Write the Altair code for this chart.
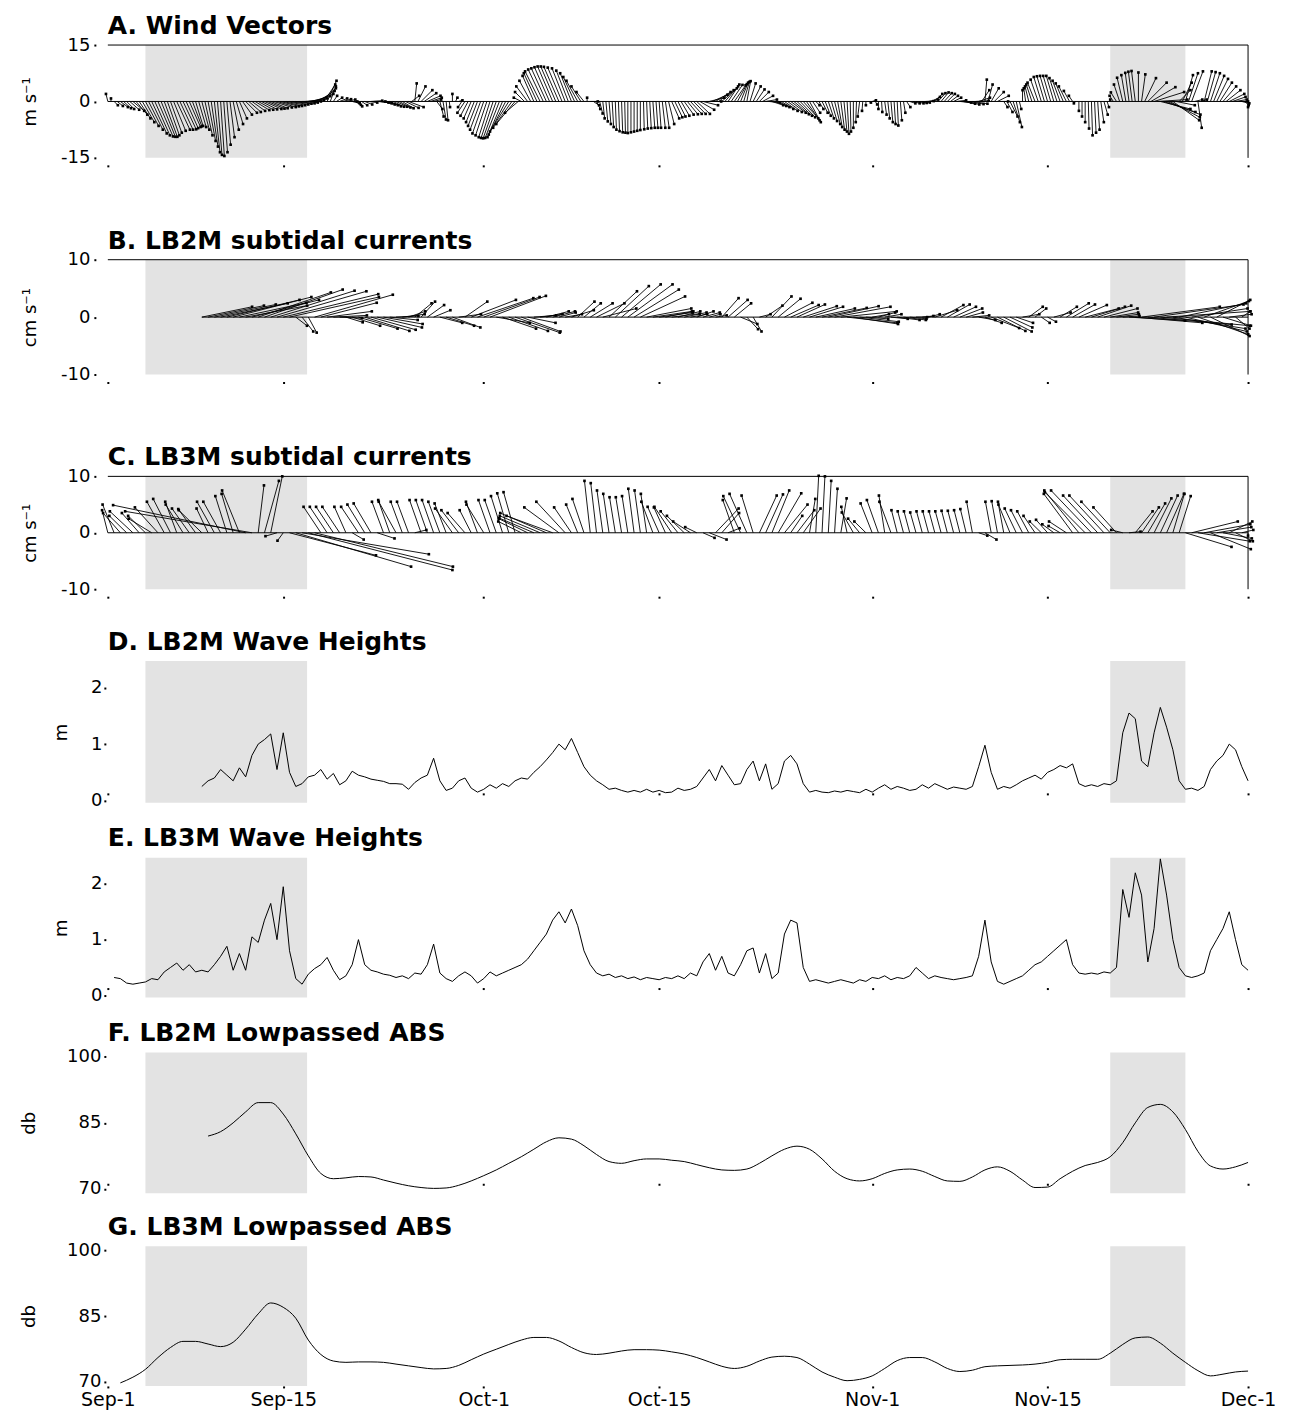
import altair as alt
import pandas as pd

FONT = "DejaVu Sans"
PLOT_W = 1142

DAY_TICKS = [0, 14, 30, 44, 61, 75, 91]
DAY_LABELS = ["Sep-1", "Sep-15", "Oct-1", "Oct-15", "Nov-1", "Nov-15", "Dec-1"]
SHADE_START = [3.0, 80.0]
SHADE_END = [15.9, 86.0]

# ---------------- A. wind (m/s), every 0.25 day from day 0 ----------------
A_START = 0.0
A_STEP = 0.25
A_V = [2.0, 0.8, -1.0, -1.2, -1.5, -1.8, -2.0, -2.2, -2.5, -3.5, -4.5, -5.5, -6.5, -7.5, -8.5, -9.0, -9.3, -9.4, -9.4, -9.0,
       -8.3, -7.8, -7.5, -7.5, -7.4, -7.1, -6.8, -6.6, -6.5, -6.8, -7.5, -9.0, -10.5, -12.0, -13.5, -14.2, -14.5, -13.5, -11.5, -9.5,
       -7.5, -6.0, -4.5, -3.5, -3.0, -2.8, -2.5, -2.3, -2.2, -2.1, -2.0, -1.9, -1.8, -1.6, -1.5, -1.3, -1.2, -1.0, -0.8, -0.6,
       -0.5, -0.3, 0.0, 0.4, 0.8, 1.4, 2.0, 2.8, 3.5, 4.5, 5.5, 4.0, 1.5, 1.0, 0.8, 0.6, 0.5, 0.0, -0.5, -0.9,
       -1.3, -1.0, -0.8, -0.3, 0.2, 0.0, -0.3, -0.5, -0.8, -1.0, -1.3, -1.4, -1.4, -1.6, -1.8, -1.7, -1.5, 1.5, 4.8, 4.0,
       3.0, 2.2, 1.5, 1.0, 0.5, -2.0, -4.0, -4.8, -5.0, -1.5, 2.0, 1.0, 0.3, -1.5, -3.0, -3.8, -4.5, -5.5, -6.5, -7.5,
       -8.5, -9.0, -9.5, -9.7, -9.8, -9.7, -9.5, -8.8, -8.0, -7.0, -6.0, -3.0, 1.0, 2.5, 4.0, 5.5, 6.8, 7.5, 8.0, 8.5,
       8.8, 9.1, 9.3, 9.3, 9.2, 9.0, 8.8, 8.2, 7.5, 6.5, 5.5, 4.0, 2.5, 1.0, 0.0, -1.0, -2.0, -3.2, -4.5, -5.3,
       -6.0, -6.8, -7.5, -7.9, -8.2, -8.3, -8.4, -8.2, -8.0, -7.8, -7.6, -7.4, -7.2, -7.1, -7.0, -7.0, -7.0, -7.0, -7.0, -6.0,
       -4.5, -4.2, -4.0, -3.8, -3.5, -3.4, -3.3, -3.3, -3.3, -2.2, -1.0, 0.0, 1.0, 1.8, 2.5, 3.0, 3.5, 4.0, 4.5, 4.4,
       4.3, 4.6, 5.0, 5.2, 5.4, 4.8, 4.0, 3.2, 2.5, 1.5, 0.5, -0.3, -1.0, -1.2, -1.5, -2.0, -2.5, -2.8, -3.0, -3.4,
       -3.8, -4.2, -4.5, -5.0, -5.5, -3.0, -1.0, -2.0, -3.0, -3.8, -4.5, -5.2, -6.0, -6.8, -7.5, -8.0, -8.6, -8.0, -7.0, -5.5,
       -4.0, -2.5, -1.0, -0.3, 0.3, -0.8, -2.0, -2.8, -3.5, -4.5, -5.5, -6.0, -6.4, -5.0, -3.0, -1.5, -0.5, -0.5, -0.5, -0.4,
       -0.3, 0.1, 0.5, 1.2, 2.0, 2.2, 2.4, 2.2, 2.0, 1.5, 1.0, 0.3, -0.3, -0.6, -0.8, -0.7, -0.6, 0.2, 1.0, 3.0,
       5.8, 4.5, 3.5, 2.5, 1.5, 0.0, -1.5, -2.8, -4.0, -5.5, -6.8, -2.0, 3.0, 3.5, 4.0, 4.5, 5.0, 5.8, 6.5, 6.7,
       6.8, 6.8, 6.8, 6.2, 5.5, 4.8, 4.0, 2.8, 1.5, -0.5, -2.5, -4.0, -5.5, -7.2, -9.0, -8.3, -7.5, -5.5, -3.5, -1.5,
       0.5, 1.5, 2.4, 4.5, 6.3, 7.0, 7.6, 7.9, 8.1, 7.7, 7.2, 6.2, 5.0, 3.8, 2.5, 0.5, -2.0, -2.8, -3.5, -4.2,
       -5.0, -1.0, 3.0, 5.0, 7.0, 7.5, 8.0, 0.5, -7.0, 0.5, 8.0, 7.8, 7.5, 6.8, 6.0, 5.0, 4.0, 3.0, 2.0, 1.2,
       0.5, 0.0, -0.5, -1.0, -1.5]
A_U = [-0.5, 0, 1, 1.5, 2, 2, 2, 2.5, 3, 3, 3, 3.2, 3.5, 3.8, 4, 4, 4, 3.8, 3.5, 3.2,
       3, 3.2, 3.5, 3.5, 3.5, 3.2, 3, 2.5, 2, 2, 2, 2, 2, 1.8, 1.5, 1.2, 1, 1, 1, 1.2,
       1.5, 1.8, 2, 2.5, 3, 3.2, 3.5, 3.8, 4, 4.2, 4.5, 4.5, 4.5, 4.8, 5, 5, 5, 5, 5, 5,
       5, 5, 5, 5, 5, 5, 5, 4.5, 4, 3, 2.5, 1.5, 1, 1.5, 2, 2.2, 2.5, 2.2, 2, 1.5,
       1, 1.5, 2, 2.5, 3, 3, 3, 3, 3, 3, 3, 3, 3, 3, 3, 3.5, 4, 2, 0.5, 2,
       3, 3.2, 3.5, 3, 2, 1.5, 1, 0.8, 0.5, 0.2, 0, 0.5, 1, -1, -2, -2, -2, -2.2, -2.5, -2.8,
       -3, -3, -3, -3.2, -3.5, -3.8, -4, -4.5, -5, -5, -5, -3.5, -2, -2.5, -3, -3, -3, -3.5, -4, -4,
       -4, -4, -4, -4, -4, -3.8, -3.5, -3.2, -3, -3, -3, -2.5, -2, 0, 2, 1.5, 1, 0.8, 0.5, 0.5,
       0.5, 0.4, 0.3, 0.3, 0.3, 0.2, 0, 0, 0, 0, 0, 0.2, 0.3, 0.4, 0.5, 0.5, 0.5, 0.8, 1, 1.5,
       2, 2, 2, 2.2, 2.5, 2.8, 3, 3.2, 3.5, 3.8, 4, 4, 4, 4, 4, 4, 4, 3.5, 3, 3,
       3, 2.5, 2, 1.5, 1, 1.5, 2, 2.2, 2.5, 2.8, 3, 3, 3, 3, 3, 3.2, 3.5, 3.8, 4, 4,
       4, 4, 4, 3.5, 3, 2, 1, 1.2, 1.5, 1.5, 1.5, 1.5, 1.5, 1.2, 1, 0.8, 0.5, 0.2, 0, -0.2,
       -0.5, -0.2, 0, 0.5, 1, 0.5, 0, 0.2, 0.5, 0.5, 0.5, 0.4, 0.3, 0.4, 0.5, 1, 1.5, 1.8, 2, 2,
       2, 2.2, 2.5, 2.2, 2, 2, 2, 2, 2, 2, 2, 2.5, 3, 3.2, 3.5, 3.8, 4, 3.5, 3, 2,
       0.5, 1.2, 2, 2.5, 3, 2, 1, 1.5, 2, 1.8, 1.5, 0.5, 0, -0.5, -1, -1.5, -2, -2, -2, -2,
       -2, -2, -2, -2, -2, -2, -2, -1.5, -1, -0.5, 0, 0, 0, 0.2, 0.3, 0.4, 0.5, 0.8, 1, 0.5,
       0, -1, -1.5, -1.5, -1.5, -1.2, -1, -1, -1, 0, 1, 3, 5, 6.5, 8, 8, 8, 8.5, 9, 8,
       7, 5, 3, 2.5, 2, 2.5, 3, 2, 1, 1.5, 2, 2.2, 2.5, 2.8, 3, 3.2, 3.5, 3.8, 4, 3.5,
       3, 2.5, 2, 1, 0]

# ---------------- B. LB2M currents (cm/s), every 0.5 day from day 7.5 ----------------
B_START = 7.5
B_U = [9, 10, 11, 12, 13,
       14, 12, 11, 12, 13, 14, 15, 16, 17, 16,
       2, 2, 1.5, 14, 10, 8, 6, 4, 3, 5,
       7, 8, 8, 8, 7, 5, 4, 4, 3, 3,
       2.5, 3, 3, 4, 5, 5, 4, 4, 8, 10,
       10, 10, 6, 6, 7, 8, 7, 5, 4, 4,
       4, 4, 3, 3, 4, 3, 3, 4, 5, 6,
       5, 6, 7, 8, 8, 8, 8, 7, 6, 5,
       5, 4, 4, 3, 3, 3, 2, 2, 3, 3.5,
       3, 3, 2, 1.5, 2, 3, 3.5, 4, 5, 5,
       5, 6, 6, 7, 8, 9, 10, 10, 9, 8,
       7, 4, 3, 3, 3, 3, 4, 4, 3, 2,
       2, 2, 4, 4, 4, 4, 4, 3, 3, 3,
       3, 5, 5, 5, 4, 3, 3, 2.5, 2, 1.5,
       1.5, 3, 3, 4, 4, 5, 6, 6, 6, 6,
       5, 4, 3, 10, 12, 14, 15, 16, 16, 15,
       13, 12, 11, 10, 9, 8, 7, 6, 5, 4,
       2.5, 1.5]
B_V = [1.8, 2.0, 2.2, 2.4, 3.0,
       3.5, 2.5, 2.0, 3.0, 4.3, 4.8, 4.6, 4.5, 4.0, 3.5,
       -1.5, -2.5, -2.7, 3.9, 2.5, 1.0, 0.3, -0.2, -0.9, -1.5,
       -2.0, -2.4, -2.2, -1.8, -1.2, -0.5, 0.2, 0.5, 1.0, 2.4,
       2.7, 2.1, 1.2, -1.0, -1.5, -1.8, 0.5, 2.7, 3.0, 3.3,
       3.5, 3.7, -1.0, -2.0, -2.4, -2.7, -2.5, -1.0, 0.3, 0.5,
       1.0, 1.0, 0.8, 0.5, 1.2, 2.7, 2.4, 2.4, 2.4, 1.5,
       4.5, 5.4, 5.7, 5.7, 4.8, 3.6, 1.5, 1.0, 0.8, 1.0,
       0.6, 1.0, 0.8, 0.5, 1.0, 0.8, 0.5, 0.3, 3.3, 3.0,
       2.4, -1.2, -2.1, -2.5, 0.5, 2.0, 3.6, 3.2, 2.5, 2.1,
       2.2, 1.9, 1.8, 1.5, 1.6, 1.9, 1.8, 1.0, -1.0, -1.2,
       -0.8, -0.3, 0.5, 0.8, 0.5, -0.3, -0.5, -0.5, -0.3, 0.0,
       0.2, 0.5, 1.2, 2.1, 2.2, 1.8, 1.5, 0.8, 0.3, -0.5,
       -1.0, -1.9, -2.4, -2.5, -1.8, -1.0, 0.5, 1.8, 1.5, -1.0,
       -0.8, 0.8, 1.8, 2.4, 2.2, 2.1, 1.5, 1.8, 2.0, 1.5,
       0.8, 0.5, 0.2, -0.6, -1.0, 1.8, -1.3, 2.2, -1.5, 1.0,
       -2.0, 2.4, -2.5, 1.5, -3.0, 2.8, -3.3, 3.0, -1.5, 0.5,
       -2.0, 1.0]

# ---------------- C. LB3M currents (cm/s), every 0.5 day from day 0 ----------------
C_START = 0.0
C_U = [-1, -2, -3, -3, -4, -3, -3, -4, -4, -3,
       -3, -2, -3, -3, -3, -4, -2, -3, -3, -2,
       -2, -3, -23, -22, 1, 2.5, 2, -2, -1, 15,
       20, 22, 25, 24, -3, -3, -3, -3, -2, 2,
       -3, -3, -3, 3, -2, -2, -3, -2, -2, 2,
       -2, -2, -2, -2, -2, -3, -3, -3, -2, -2,
       -3, -2, -2, -2, -2, -2, -4, -5, -6, -7,
       -8, -8, -6, -5, -3, -2, -2, -1, -1, -1,
       -1, -1, -1, -1, -1, -1, -1, -2, -2, -2,
       -3, -3, -3, -3, -2, 2, 3, 4, 3, 2,
       -2, -3, -3, -2, 3, 3, 3, 4, 4, 2,
       3, 3, 1, 0.5, 0.5, 0.5, 0.5, 1, -1, -2,
       -2, -2, -2, -2, -1, -2, -1, -1, -1, -1,
       -1, -1, -1, -1, -1, -1, -1, -1, -1, 1.5,
       2, -1, -1, -1, -2, -2, -2, -2, -2, -2,
       -2, -2, -2, -3, -5, -6, -7, -7, -6, -6,
       -5, -4, -2, 2, 3, 3, 3, 3, 3, 3,
       2, 2, 8, 8, 9, 8, 7, 6, 5, 4,
       3, 2, 0]
C_V = [4.0, 5.0, 3.5, 3.0, 3.8, 3.5, 3.0, 2.5, 4.5, 5.5,
       6.0, 5.5, 5.0, 4.3, 4.2, 4.0, 4.3, 5.5, 5.5, 6.5,
       6.9, 7.5, 4.9, 3.8, 8.4, 9.2, 10.0, -0.6, -1.4, -4.0,
       -6.0, -3.8, -6.6, -6.0, 4.6, 4.6, 4.6, 4.6, 4.6, -1.2,
       4.6, 5.0, 5.2, -1.0, 5.5, 5.8, 5.5, 5.5, 5.5, 0.5,
       5.8, 5.8, 5.8, 5.5, 5.2, 4.3, 4.0, 3.5, 4.0, 5.5,
       5.0, 5.8, 5.8, 6.5, 7.0, 7.2, 2.0, 2.5, 2.6, 3.0,
       3.5, 3.0, 4.5, 5.5, 4.5, 5.0, 6.0, 9.2, 8.8, 7.5,
       6.9, 6.3, 6.3, 6.5, 7.8, 7.5, 6.9, 5.5, 4.6, 4.5,
       4.6, 3.8, 3.0, 2.0, 1.0, -0.9, -1.2, 4.3, 3.5, 0.8,
       5.8, 6.5, 6.9, 6.6, 6.6, 6.8, 7.5, 7.0, 5.0, 3.0,
       4.0, 4.3, 6.0, 10.1, 10.0, 9.2, 7.8, 6.1, 4.6, 3.6,
       2.5, 2.0, 5.2, 5.8, 6.6, 5.5, 4.0, 3.8, 3.8, 3.6,
       3.8, 3.8, 3.8, 3.8, 3.9, 3.9, 4.0, 4.2, 5.5, -0.5,
       -1.2, 5.5, 5.6, 5.5, 5.0, 4.3, 4.0, 3.8, 3.0, 2.0,
       2.3, 1.5, 1.2, 2.0, 6.9, 7.5, 7.2, 7.5, 6.6, 6.6,
       5.5, 4.5, 0.5, 0.2, 3.8, 4.5, 5.2, 6.1, 6.6, 6.9,
       6.9, 6.5, -2.5, 2.0, -1.5, 1.5, -2.9, 1.0, -1.0, 2.0,
       -1.5, 0.5, -0.5]

# ---------------- D. LB2M wave height (m), every 0.5 day from day 7.5 ----------------
D_START = 7.5
D_H = [0.25, 0.35, 0.40, 0.55, 0.45,
       0.35, 0.58, 0.42, 0.80, 1.00, 1.08, 1.18, 0.55, 1.20, 0.50,
       0.25, 0.30, 0.42, 0.45, 0.55, 0.38, 0.48, 0.28, 0.35, 0.52,
       0.45, 0.42, 0.38, 0.36, 0.34, 0.30, 0.30, 0.29, 0.20, 0.32,
       0.40, 0.45, 0.75, 0.35, 0.18, 0.22, 0.35, 0.40, 0.22, 0.15,
       0.20, 0.28, 0.22, 0.30, 0.25, 0.35, 0.40, 0.38, 0.50, 0.60,
       0.72, 0.85, 1.00, 0.90, 1.10, 0.85, 0.60, 0.45, 0.35, 0.28,
       0.20, 0.22, 0.18, 0.15, 0.18, 0.15, 0.20, 0.15, 0.18, 0.14,
       0.15, 0.22, 0.18, 0.20, 0.25, 0.40, 0.55, 0.35, 0.62, 0.45,
       0.28, 0.30, 0.55, 0.70, 0.35, 0.65, 0.20, 0.30, 0.70, 0.80,
       0.65, 0.30, 0.15, 0.18, 0.15, 0.14, 0.17, 0.15, 0.18, 0.16,
       0.14, 0.20, 0.15, 0.22, 0.28, 0.20, 0.25, 0.22, 0.18, 0.20,
       0.28, 0.22, 0.30, 0.25, 0.20, 0.24, 0.22, 0.20, 0.25, 0.60,
       0.98, 0.50, 0.20, 0.25, 0.22, 0.28, 0.35, 0.40, 0.45, 0.38,
       0.50, 0.55, 0.62, 0.58, 0.65, 0.30, 0.25, 0.28, 0.25, 0.30,
       0.28, 0.35, 1.20, 1.55, 1.45, 0.70, 0.60, 1.20, 1.65, 1.30,
       0.90, 0.35, 0.20, 0.22, 0.18, 0.25, 0.55, 0.70, 0.80, 1.00,
       0.90, 0.60, 0.35]

# ---------------- E. LB3M wave height (m), every 0.5 day from day 0.5 ----------------
E_START = 0.5
E_H = [0.32, 0.30, 0.22, 0.20, 0.22, 0.24, 0.30, 0.28, 0.42,
       0.50, 0.58, 0.45, 0.55, 0.42, 0.45, 0.42, 0.55, 0.70, 0.88,
       0.45, 0.75, 0.45, 1.05, 0.95, 1.35, 1.65, 1.00, 1.95, 0.80,
       0.30, 0.20, 0.38, 0.48, 0.55, 0.68, 0.45, 0.28, 0.35, 0.55,
       1.00, 0.55, 0.45, 0.42, 0.38, 0.36, 0.32, 0.35, 0.30, 0.40,
       0.38, 0.55, 0.92, 0.40, 0.30, 0.25, 0.35, 0.42, 0.35, 0.22,
       0.30, 0.42, 0.35, 0.40, 0.45, 0.50, 0.55, 0.65, 0.80, 0.95,
       1.10, 1.35, 1.50, 1.30, 1.55, 1.25, 0.80, 0.55, 0.40, 0.35,
       0.38, 0.32, 0.35, 0.30, 0.33, 0.28, 0.32, 0.30, 0.28, 0.32,
       0.30, 0.35, 0.30, 0.40, 0.35, 0.60, 0.75, 0.45, 0.70, 0.40,
       0.35, 0.55, 0.80, 0.85, 0.40, 0.75, 0.30, 0.40, 1.10, 1.35,
       1.30, 0.50, 0.25, 0.28, 0.25, 0.22, 0.25, 0.28, 0.25, 0.22,
       0.28, 0.25, 0.32, 0.30, 0.35, 0.28, 0.32, 0.30, 0.35, 0.50,
       0.40, 0.30, 0.35, 0.32, 0.30, 0.28, 0.30, 0.32, 0.35, 0.70,
       1.35, 0.60, 0.25, 0.20, 0.25, 0.30, 0.35, 0.45, 0.55, 0.60,
       0.70, 0.80, 0.90, 1.00, 0.55, 0.40, 0.38, 0.40, 0.38, 0.42,
       0.40, 0.50, 1.90, 1.40, 2.20, 1.80, 0.60, 1.20, 2.45, 1.80,
       1.00, 0.50, 0.35, 0.32, 0.35, 0.40, 0.80, 1.00, 1.20, 1.50,
       1.00, 0.55, 0.45]

# ---------------- F. LB2M lowpassed ABS (db), daily from day 8 ----------------
F_START = 8
F_DB = [82.0, 83.0, 85.0, 87.5, 89.6, 89.6, 87.0, 82.5, 77.5, 73.5,
        72.3, 72.5, 72.8, 72.7, 72.0, 71.3, 70.7, 70.3, 70.1, 70.2,
        70.8, 71.8, 73.0, 74.3, 75.8, 77.3, 79.0, 80.7, 81.6, 81.3,
        79.8, 77.8, 76.2, 75.8, 76.4, 76.8, 76.8, 76.5, 76.2, 75.5,
        74.8, 74.3, 74.2, 74.5, 75.8, 77.5, 79.0, 79.7, 79.0, 76.8,
        74.0, 72.3, 71.8, 72.3, 73.5, 74.3, 74.5, 74.0, 72.8, 71.8,
        71.7, 72.7, 74.3, 75.0, 74.0, 72.0, 70.3, 70.4, 72.3, 74.0,
        75.3, 76.0, 77.3, 80.5, 85.0, 88.5, 89.2, 87.5, 83.5, 78.5,
        75.2, 74.5, 75.0, 76.0]

# ---------------- G. LB3M lowpassed ABS (db), daily from day 1 ----------------
G_START = 1
G_DB = [69.7, 71.0, 72.8, 75.5, 77.8, 79.2, 79.2, 78.6, 78.0, 79.0,
        82.0, 85.5, 88.0, 87.0, 84.5, 79.5, 76.2, 74.7, 74.4, 74.5,
        74.5, 74.4, 74.0, 73.6, 73.2, 72.9, 73.0, 73.7, 75.0, 76.3,
        77.4, 78.5, 79.5, 80.1, 80.1, 79.3, 77.8, 76.6, 76.2, 76.5,
        77.0, 77.3, 77.3, 77.2, 76.8, 76.3, 75.5, 74.5, 73.5, 73.0,
        73.5, 74.7, 75.6, 75.8, 75.5, 74.0, 72.2, 71.0, 70.2, 70.5,
        71.3, 73.0, 74.8, 75.5, 75.5, 74.5, 73.0, 72.3, 72.6, 73.4,
        73.6, 73.7, 73.8, 74.0, 74.4, 75.0, 75.1, 75.1, 75.1, 76.5,
        78.5, 80.0, 80.2, 78.8, 76.5, 74.4, 72.5, 71.3, 71.7, 72.2,
        72.4]


def times(start, n, step):
    return [start + step * i for i in range(n)]


label_expr = "''"
for d, lab in zip(reversed(DAY_TICKS), reversed(DAY_LABELS)):
    label_expr = f"datum.value == {d} ? '{lab}' : ({label_expr})"

XSC = alt.Scale(domain=[0, 91], nice=False, zero=False)


def xaxis(kind):
    common = dict(values=DAY_TICKS, tickSize=2, tickWidth=2, tickColor="black",
                  domain=False, grid=False, title=None)
    if kind == "stick":
        return alt.Axis(labels=False, offset=7, **common)
    if kind == "inner":
        return alt.Axis(labels=False, offset=-10, **common)
    return alt.Axis(labelExpr=label_expr, labelFontSize=19, labelFlush=False,
                    labelPadding=3, labelOverlap=False, **common)


def yaxis(vals, title, offset, pad, tpad):
    return alt.Axis(values=vals, title=title, offset=offset, labelPadding=pad,
                    titlePadding=tpad, tickSize=2, tickWidth=2, tickColor="black",
                    domain=False, grid=False, labelFontSize=18, titleFontSize=18,
                    titleFontWeight="normal", labelExpr="toString(datum.value)")


def panel_title(text, offset):
    return alt.TitleParams(text=text, anchor="start", frame="group", font=FONT,
                           fontSize=25, fontWeight="bold", color="black", offset=offset)


def shade_layer(ysc, ymin, ymax, xax, yax):
    sdf = pd.DataFrame({"s": SHADE_START, "e": SHADE_END,
                        "lo": [ymin] * len(SHADE_START), "hi": [ymax] * len(SHADE_START)})
    return alt.Chart(sdf).mark_rect(color="#e3e3e3").encode(
        x=alt.X("s:Q", scale=XSC, axis=xax), x2="e:Q",
        y=alt.Y("lo:Q", scale=ysc, axis=yax), y2="hi:Q")


def stick_panel(title, start, step, u, v, k, ylim, yvals, ytitle, height, sw):
    assert len(u) == len(v)
    ymin, ymax = ylim
    ysc = alt.Scale(domain=[ymin, ymax], nice=False, zero=False)
    xax = xaxis("stick")
    yax = yaxis(yvals, ytitle, 12, 4, 21)
    t = times(start, len(u), step)
    df = pd.DataFrame({"t": t, "u": u, "v": v})
    df["tip"] = df["t"] + k * df["u"]
    df["zero"] = 0.0
    fdf = pd.DataFrame({"x": [start, 0, 91], "x2": [91, 91, 91],
                        "y": [0, ymax, ymin], "y2": [0, ymax, ymax]})
    shade = shade_layer(ysc, ymin, ymax, xax, yax)
    frame = alt.Chart(fdf).mark_rule(color="black", strokeWidth=1).encode(
        x=alt.X("x:Q", scale=XSC, axis=xax), x2="x2:Q",
        y=alt.Y("y:Q", scale=ysc, axis=yax), y2="y2:Q")
    sticks = alt.Chart(df).mark_rule(color="black", strokeWidth=sw).encode(
        x=alt.X("t:Q", scale=XSC, axis=xax), x2="tip:Q",
        y=alt.Y("zero:Q", scale=ysc, axis=yax), y2="v:Q")
    tips = alt.Chart(df).mark_square(color="black", size=7, opacity=1).encode(
        x=alt.X("tip:Q", scale=XSC, axis=xax),
        y=alt.Y("v:Q", scale=ysc, axis=yax))
    return alt.layer(shade, frame, sticks, tips).properties(
        width=PLOT_W, height=height, title=panel_title(title, -3))


def line_panel(title, start, step, vals, ylim, yvals, ytitle, height, xkind,
               offset, pad, tpad, smooth, toff):
    ymin, ymax = ylim
    ysc = alt.Scale(domain=[ymin, ymax], nice=False, zero=False)
    xax = xaxis(xkind)
    yax = yaxis(yvals, ytitle, offset, pad, tpad)
    df = pd.DataFrame({"t": times(start, len(vals), step), "y": vals})
    shade = shade_layer(ysc, ymin, ymax, xax, yax)
    line = alt.Chart(df).mark_line(color="black", strokeWidth=1,
                                   interpolate="monotone" if smooth else "linear").encode(
        x=alt.X("t:Q", scale=XSC, axis=xax),
        y=alt.Y("y:Q", scale=ysc, axis=yax))
    return alt.layer(shade, line).properties(width=PLOT_W, height=height,
                                             title=panel_title(title, toff))


pA = stick_panel("A. Wind Vectors", A_START, A_STEP, A_U, A_V, 0.30, (-15, 15),
                 [-15, 0, 15], "m s\u207b\u00b9", 113, 0.9)
pB = stick_panel("B. LB2M subtidal currents", B_START, 0.5, B_U, B_V, 0.446, (-10, 10),
                 [-10, 0, 10], "cm s\u207b\u00b9", 115, 0.9)
pC = stick_panel("C. LB3M subtidal currents", C_START, 0.5, C_U, C_V, 0.46, (-10, 10),
                 [-10, 0, 10], "cm s\u207b\u00b9", 113, 0.9)
pD = line_panel("D. LB2M Wave Heights", D_START, 0.5, D_H, (-0.04, 2.47), [0, 1, 2],
                "m", 142, "inner", 2, 2, 20, False, 6)
pE = line_panel("E. LB3M Wave Heights", E_START, 0.5, E_H, (-0.04, 2.47), [0, 1, 2],
                "m", 140, "inner", 2, 2, 20, False, 6)
pF = line_panel("F. LB2M Lowpassed ABS", F_START, 1, F_DB, (69, 101), [70, 85, 100],
                "db", 141, "inner", 2, 3, 28, True, 2)
pG = line_panel("G. LB3M Lowpassed ABS", G_START, 1, G_DB, (69, 101), [70, 85, 100],
                "db", 140, "bottom", 2, 3, 28, True, 2)

top = alt.vconcat(pA, pB, pC, spacing=61)
bottom = alt.vconcat(pD, pE, pF, pG, spacing=16)

chart = alt.vconcat(top, bottom, spacing=31).properties(
    padding={"left": 12, "top": 5, "right": 5, "bottom": 0},
    background="white",
).configure_view(strokeWidth=0).configure_axis(
    labelFont=FONT, titleFont=FONT, labelColor="black", titleColor="black"
)

chart.save("out.html", embed_options={"renderer": "svg", "actions": False})
